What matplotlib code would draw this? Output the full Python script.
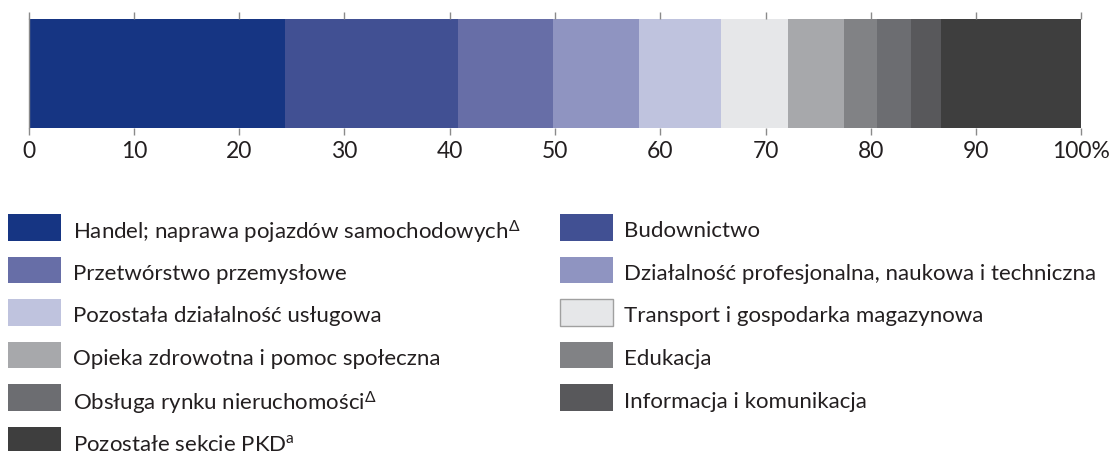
import matplotlib
matplotlib.use("Agg")
import matplotlib.pyplot as plt
from matplotlib.patches import Rectangle

plt.rcParams['font.family'] = ['Lato', 'DejaVu Sans']
plt.rcParams['mathtext.fontset'] = 'custom'
plt.rcParams['mathtext.rm'] = 'Lato'
plt.rcParams['mathtext.it'] = 'Lato'

# data (share of units, %)
categories = [
    "Handel; naprawa pojazdów samochodowych$^{\\Delta}$",
    "Budownictwo",
    "Przetwórstwo przemysłowe",
    "Działalność profesjonalna, naukowa i techniczna",
    "Pozostała działalność usługowa",
    "Transport i gospodarka magazynowa",
    "Opieka zdrowotna i pomoc społeczna",
    "Edukacja",
    "Obsługa rynku nieruchomości$^{\\Delta}$",
    "Informacja i komunikacja",
    "Pozostałe sekcje PKD$^{\\mathrm{a}}$",
]
shares = [24.4, 16.4, 9.0, 8.2, 7.8, 6.3, 5.3, 3.2, 3.2, 2.9, 13.3]
colors = ["#163583", "#415093", "#676ea7", "#8f94c1", "#bfc3de", "#e6e7e9",
          "#a7a8ab", "#818285", "#6c6d71", "#58585b", "#3e3e3e"]
tick_vals = [0, 10, 20, 30, 40, 50, 60, 70, 80, 90, 100]
tick_labels = ["0", "10", "20", "30", "40", "50", "60", "70", "80", "90", "100%"]

W, H = 1113, 452
fig = plt.figure(figsize=(W / 100, H / 100), dpi=100)

# stacked bar
ax = fig.add_axes([28.5 / W, 1 - 128.6 / H, 1053 / W, 108.2 / H])
left = 0
for val, col in zip(shares, colors):
    ax.barh(0, val, left=left, height=1, color=col, edgecolor='none')
    left += val
ax.set_xlim(0, 100)
ax.set_ylim(-0.5, 0.5)
ax.set_yticks([])
ax.set_xticks(tick_vals)
ax.set_xticklabels(tick_labels, fontsize=16.5, color="#231f20")
ax.tick_params(axis='x', which='both', top=True, bottom=True, direction='out',
               length=5, width=1, color="#8a8a8a", pad=4)
for s in ['top', 'bottom', 'right']:
    ax.spines[s].set_visible(False)
ax.spines['left'].set_color("#8a8a8a")
ax.spines['left'].set_linewidth(1)

# legend drawn manually, two columns, row-major order
col_x = [8.3, 560]
text_dx = 64.5
row_y0, row_dy = 228.3, 42.6
pw, ph = 52.7, 26.7
for i, (lab, col) in enumerate(zip(categories, colors)):
    c = i % 2
    r = i // 2
    x = col_x[c]
    yc = row_y0 + r * row_dy
    ec = "#a0a0a0" if col == "#e6e7e9" else 'none'
    fig.add_artist(Rectangle((x / W, 1 - (yc + ph / 2) / H), pw / W, ph / H,
                             transform=fig.transFigure, facecolor=col,
                             edgecolor=ec, linewidth=1))
    fig.text((x + text_dx) / W, 1 - (yc + 1) / H, lab, fontsize=16, color="#231f20",
             va='center_baseline', ha='left')

fig.savefig("out.png", dpi=100)
